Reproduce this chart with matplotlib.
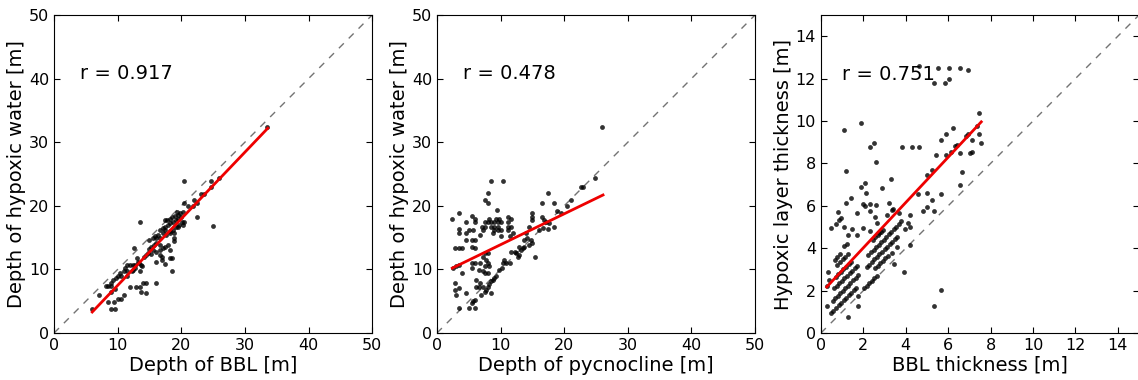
import matplotlib.pyplot as plt
import numpy as np

# panel 1: depth of BBL vs depth of hypoxic water
p1_points = [
    (6.0, 3.8), (7.0, 5.9), (8.1, 7.4), (8.5, 7.4), (8.9, 7.4), (9.0, 3.8), (9.6, 3.8),
    (8.5, 4.8), (9.4, 4.8), (10.1, 5.3), (10.5, 5.3), (11.0, 6.0), (8.9, 6.4), (9.6, 6.9),
    (9.3, 8.4), (9.7, 8.6), (10.1, 8.9), (10.4, 9.4), (9.0, 7.9), (11.5, 8.9), (11.0, 9.7),
    (11.4, 9.8), (12.9, 7.3), (13.5, 7.3), (13.6, 6.4), (14.5, 6.3), (14.0, 7.8), (14.5, 7.8),
    (12.0, 7.3), (16.0, 7.8), (11.5, 10.7), (11.9, 10.7), (12.4, 10.7), (12.8, 10.7),
    (12.4, 9.9), (12.8, 10.2), (13.4, 11.0), (13.7, 10.7), (13.0, 11.8), (13.2, 11.2),
    (12.2, 9.7), (13.5, 9.7), (13.9, 10.5), (12.5, 13.3), (14.5, 12.3), (14.2, 12.0),
    (14.9, 13.2), (15.3, 13.6), (15.7, 13.9), (16.0, 14.1), (16.6, 13.9), (15.0, 14.7),
    (15.5, 14.9), (16.0, 14.9), (15.6, 13.1), (16.1, 12.8), (16.6, 13.1), (17.1, 13.3),
    (16.6, 12.3), (17.0, 12.0), (16.9, 11.5), (16.1, 11.2), (17.5, 13.6), (17.9, 13.9),
    (17.5, 10.8), (18.2, 11.8), (18.5, 11.8), (18.5, 9.8), (18.9, 14.9), (18.9, 14.4),
    (18.2, 13.1), (16.6, 16.2), (17.1, 16.5), (17.5, 16.7), (17.9, 17.0), (18.3, 17.3),
    (18.7, 17.5), (19.1, 17.8), (19.5, 18.0), (19.9, 18.3), (17.4, 17.8), (17.7, 17.8),
    (18.2, 18.0), (18.6, 18.3), (19.0, 18.4), (19.5, 18.6), (19.8, 18.8), (20.3, 19.0),
    (17.1, 15.7), (17.6, 15.4), (18.2, 16.0), (18.7, 16.2), (19.2, 16.7), (19.7, 17.0),
    (20.1, 17.4), (16.3, 15.4), (16.7, 14.9), (17.4, 16.2), (19.5, 16.7), (20.3, 17.0),
    (20.5, 17.5), (18.3, 15.7), (18.8, 15.7), (13.5, 17.4), (20.5, 23.9), (20.5, 20.4),
    (21.0, 19.9), (21.8, 19.9), (22.0, 20.9), (22.5, 20.4), (23.1, 21.9), (23.5, 21.9),
    (24.6, 22.9), (24.6, 23.9), (26.0, 24.4), (22.5, 18.3), (25.0, 16.8), (33.5, 32.4),
    (10.6, 9.0), (11.2, 10.2), (14.8, 12.6), (15.2, 12.4), (15.8, 15.3), (19.4, 19.1),
]
p1_fit_x = [6.0, 33.6]
p1_fit_y = [3.3, 32.2]

# panel 2: depth of pycnocline vs depth of hypoxic water
p2_points = [
    (26.0, 32.4), (24.9, 24.4), (22.6, 22.9), (22.9, 22.9), (21.0, 20.9), (20.4, 19.9),
    (17.5, 22.0), (16.5, 20.4), (18.4, 20.4), (18.9, 19.2), (19.5, 18.8), (15.0, 18.8),
    (15.0, 18.3), (15.0, 17.8), (16.5, 18.3), (16.9, 17.8), (17.1, 17.4), (17.6, 17.3),
    (18.4, 16.7), (16.1, 16.2), (16.6, 16.5), (17.4, 16.3), (14.4, 16.7), (14.0, 15.7),
    (13.7, 14.6), (14.2, 14.9), (14.8, 14.6), (15.0, 14.1), (14.5, 13.9), (12.9, 13.6),
    (13.2, 13.1), (13.5, 13.3), (13.7, 13.5), (12.4, 12.6), (12.7, 12.0), (12.9, 12.3),
    (15.4, 11.9), (12.2, 12.8), (11.6, 12.8), (11.4, 11.0), (10.9, 11.0), (10.3, 11.0),
    (10.6, 11.5), (9.7, 9.9), (10.2, 10.2), (9.3, 8.9), (9.0, 8.6), (8.8, 8.4), (8.5, 8.1),
    (8.2, 7.7), (8.0, 7.3), (7.7, 6.8), (7.5, 6.5), (8.5, 6.3), (6.9, 5.9), (6.2, 7.3),
    (6.6, 7.3), (7.2, 7.3), (5.9, 5.2), (5.6, 5.0), (5.5, 4.7), (5.0, 3.9), (5.9, 3.9),
    (3.5, 3.9), (4.5, 6.3), (3.0, 5.9), (2.9, 7.8), (2.8, 6.8), (3.5, 7.1), (2.5, 10.2),
    (3.0, 10.5), (3.4, 10.7), (4.0, 9.4), (2.9, 13.3), (3.4, 13.3), (4.0, 13.3),
    (2.4, 17.9), (3.4, 18.9), (3.4, 16.3), (3.4, 15.8), (4.5, 17.4), (4.5, 15.8),
    (4.5, 14.6), (5.5, 18.4), (6.0, 17.9), (6.0, 17.4), (5.5, 14.6), (5.5, 13.6),
    (6.0, 14.6), (6.0, 13.3), (6.7, 15.4), (7.2, 16.2), (7.1, 16.7), (7.5, 20.9),
    (8.0, 20.4), (8.0, 22.0), (8.5, 23.9), (10.4, 23.9), (9.5, 19.4), (7.5, 17.4),
    (8.0, 17.4), (8.5, 17.4), (9.0, 17.4), (9.6, 17.4), (10.1, 17.4), (7.5, 16.7),
    (8.5, 16.7), (9.0, 16.7), (9.6, 16.7), (8.2, 17.9), (9.3, 17.9), (9.8, 17.9),
    (9.0, 16.2), (9.6, 16.2), (10.1, 16.2), (8.8, 15.7), (11.1, 18.3), (11.1, 17.4),
    (11.1, 16.7), (11.1, 16.2), (11.6, 17.9), (11.6, 16.7), (11.9, 15.7), (11.4, 15.2),
    (10.1, 15.2), (5.5, 11.0), (6.05, 11.0), (6.7, 11.0), (5.5, 10.2), (6.6, 9.9),
    (7.2, 9.7), (7.5, 10.5), (8.0, 11.0), (8.2, 10.5), (8.0, 9.4), (6.2, 8.4), (6.7, 7.8),
    (7.5, 9.4), (7.7, 11.5), (7.2, 12.0), (7.5, 12.6), (8.0, 12.6), (5.1, 16.2), (5.6, 16.2),
]
p2_fit_x = [2.4, 26.1]
p2_fit_y = [10.2, 21.7]

# panel 3: BBL thickness vs hypoxic layer thickness
p3_points = [
    # quantised streaks
    (0.47, 0.94), (0.59, 1.06), (0.71, 1.18), (0.83, 1.30), (0.95, 1.42), (1.07, 1.54),
    (1.19, 1.66), (1.31, 1.78), (1.43, 1.90), (1.55, 2.02), (1.67, 2.14),
    (0.55, 1.52), (0.67, 1.64), (0.79, 1.76), (0.91, 1.88), (1.03, 2.00), (1.15, 2.12),
    (1.27, 2.24), (1.39, 2.36), (1.51, 2.48), (1.63, 2.60), (1.75, 2.72),
    (0.63, 2.10), (0.75, 2.22), (0.87, 2.34), (0.99, 2.46), (1.11, 2.58), (1.23, 2.70),
    (1.35, 2.82), (1.47, 2.94), (1.59, 3.06), (1.71, 3.18),
    (0.70, 2.65), (0.82, 2.77), (0.94, 2.89), (1.06, 3.01), (1.18, 3.13), (1.30, 3.25),
    (1.42, 3.37),
    (0.78, 3.23), (0.90, 3.35), (1.02, 3.47), (1.14, 3.59), (1.26, 3.71),
    (0.65, 3.44), (0.77, 3.58), (0.89, 3.72), (1.10, 4.10), (1.22, 4.22),
    (2.03, 2.11), (2.15, 2.23), (2.27, 2.35), (2.39, 2.47), (2.51, 2.59), (2.63, 2.71),
    (2.55, 3.05), (2.67, 3.17), (2.79, 3.29), (2.91, 3.41), (3.03, 3.53), (3.15, 3.65),
    (2.16, 3.11), (2.28, 3.23), (2.40, 3.35), (2.52, 3.47), (2.64, 3.59), (2.76, 3.71),
    (2.88, 3.83), (3.00, 3.95), (3.12, 4.07), (3.24, 4.19), (3.36, 4.31), (3.48, 4.43),
    (3.60, 4.55),
    (2.24, 3.69), (2.36, 3.81), (2.48, 3.93), (2.60, 4.05), (2.72, 4.17), (2.84, 4.29),
    (2.96, 4.41), (3.08, 4.53), (3.20, 4.65), (3.32, 4.77), (3.44, 4.89), (3.56, 5.01),
    (3.68, 5.13),
    (2.45, 4.40), (2.57, 4.52), (2.69, 4.64), (2.81, 4.76), (2.93, 4.88),
    # scattered points
    (1.29, 0.74), (0.28, 1.26), (1.77, 1.26), (5.32, 1.26), (5.64, 2.04), (3.90, 2.86),
    (1.77, 1.76), (4.22, 4.16), (3.58, 4.08), (3.43, 3.27), (3.37, 3.77), (0.30, 2.20),
    (0.35, 2.90), (0.40, 2.50), (4.22, 5.02), (4.11, 5.18), (4.22, 5.57), (3.79, 5.26),
    (3.95, 4.90), (3.66, 5.65), (3.35, 5.81), (3.11, 5.57), (3.22, 6.15), (3.40, 5.86),
    (2.90, 6.86), (3.31, 7.27), (2.59, 8.08), (2.32, 8.79), (2.51, 8.98), (1.89, 9.89),
    (1.09, 9.57), (1.18, 7.66), (1.17, 6.15), (1.41, 6.36), (0.47, 4.94), (0.69, 5.15),
    (0.79, 5.73), (0.95, 5.41), (0.85, 5.34), (1.11, 5.02), (1.29, 4.63), (1.48, 4.90),
    (1.69, 4.63), (1.69, 5.68), (1.89, 6.87), (2.08, 7.09), (2.12, 6.62), (2.00, 6.09),
    (2.08, 5.99), (2.32, 5.77), (2.56, 5.49), (2.59, 6.04), (2.29, 6.09), (2.00, 4.94),
    (2.32, 4.83), (2.72, 4.74), (2.64, 5.21), (4.61, 8.79), (4.29, 8.79), (3.82, 8.79),
    (4.58, 6.56), (5.02, 6.62), (5.24, 6.28), (5.32, 5.76), (4.82, 5.76), (5.02, 5.96),
    (5.64, 6.56), (5.02, 7.45), (5.24, 7.69), (5.43, 8.39), (5.64, 9.10), (5.92, 8.39),
    (5.92, 9.37), (6.22, 9.68), (6.11, 8.55), (6.32, 8.83), (6.43, 8.87), (6.54, 8.47),
    (6.63, 7.58), (6.54, 6.98), (6.82, 9.29), (6.95, 9.41), (7.03, 8.47), (7.14, 8.55),
    (7.14, 9.10), (7.34, 9.78), (7.45, 10.40), (7.45, 9.38), (7.56, 8.98),
    (5.32, 11.80), (5.53, 12.50), (5.83, 11.80), (6.03, 11.99), (6.03, 12.50),
    (6.54, 12.50), (6.93, 12.40), (4.61, 12.60),
]
p3_fit_x = [0.27, 7.56]
p3_fit_y = [2.17, 9.96]

r_values = ['0.917', '0.478', '0.751']
x_labels = ['Depth of BBL [m]', 'Depth of pycnocline [m]', 'BBL thickness [m]']
y_labels = ['Depth of hypoxic water [m]', 'Depth of hypoxic water [m]', 'Hypoxic layer thickness [m]']
limits = [50, 50, 15]
tick_steps = [10, 10, 2]
r_pos = [(4.1, 40.8), (4.1, 40.8), (1.0, 12.2)]

fig = plt.figure(figsize=(11.38, 3.8), dpi=100)
lefts = [0.0475, 0.384, 0.7214]
panels = [(p1_points, p1_fit_x, p1_fit_y), (p2_points, p2_fit_x, p2_fit_y),
          (p3_points, p3_fit_x, p3_fit_y)]

for i, (pts, fx, fy) in enumerate(panels):
    ax = fig.add_axes([lefts[i], 0.1237, 0.2795, 0.8368])
    pts = np.array(pts)
    lim = limits[i]
    ax.plot([0, lim], [0, lim], color='0.45', ls=(0, (5, 5)), lw=1, zorder=1)
    ax.scatter(pts[:, 0], pts[:, 1], s=12, c='k', lw=0, alpha=0.8, zorder=2)
    ax.plot(fx, fy, color='#ee0000', lw=2, zorder=3)
    ax.set_xlim(0, lim)
    ax.set_ylim(0, lim)
    ticks = np.arange(0, lim + 0.1, tick_steps[i])
    ax.set_xticks(ticks)
    ax.set_yticks(ticks)
    ax.tick_params(direction='in', top=True, right=True, length=4, labelsize=11.5)
    ax.set_xlabel(x_labels[i], fontsize=14, labelpad=2)
    ax.set_ylabel(y_labels[i], fontsize=14, labelpad=2)
    ax.text(r_pos[i][0], r_pos[i][1], 'r = ' + r_values[i], fontsize=14, va='center')

fig.savefig('out.png', dpi=100)
